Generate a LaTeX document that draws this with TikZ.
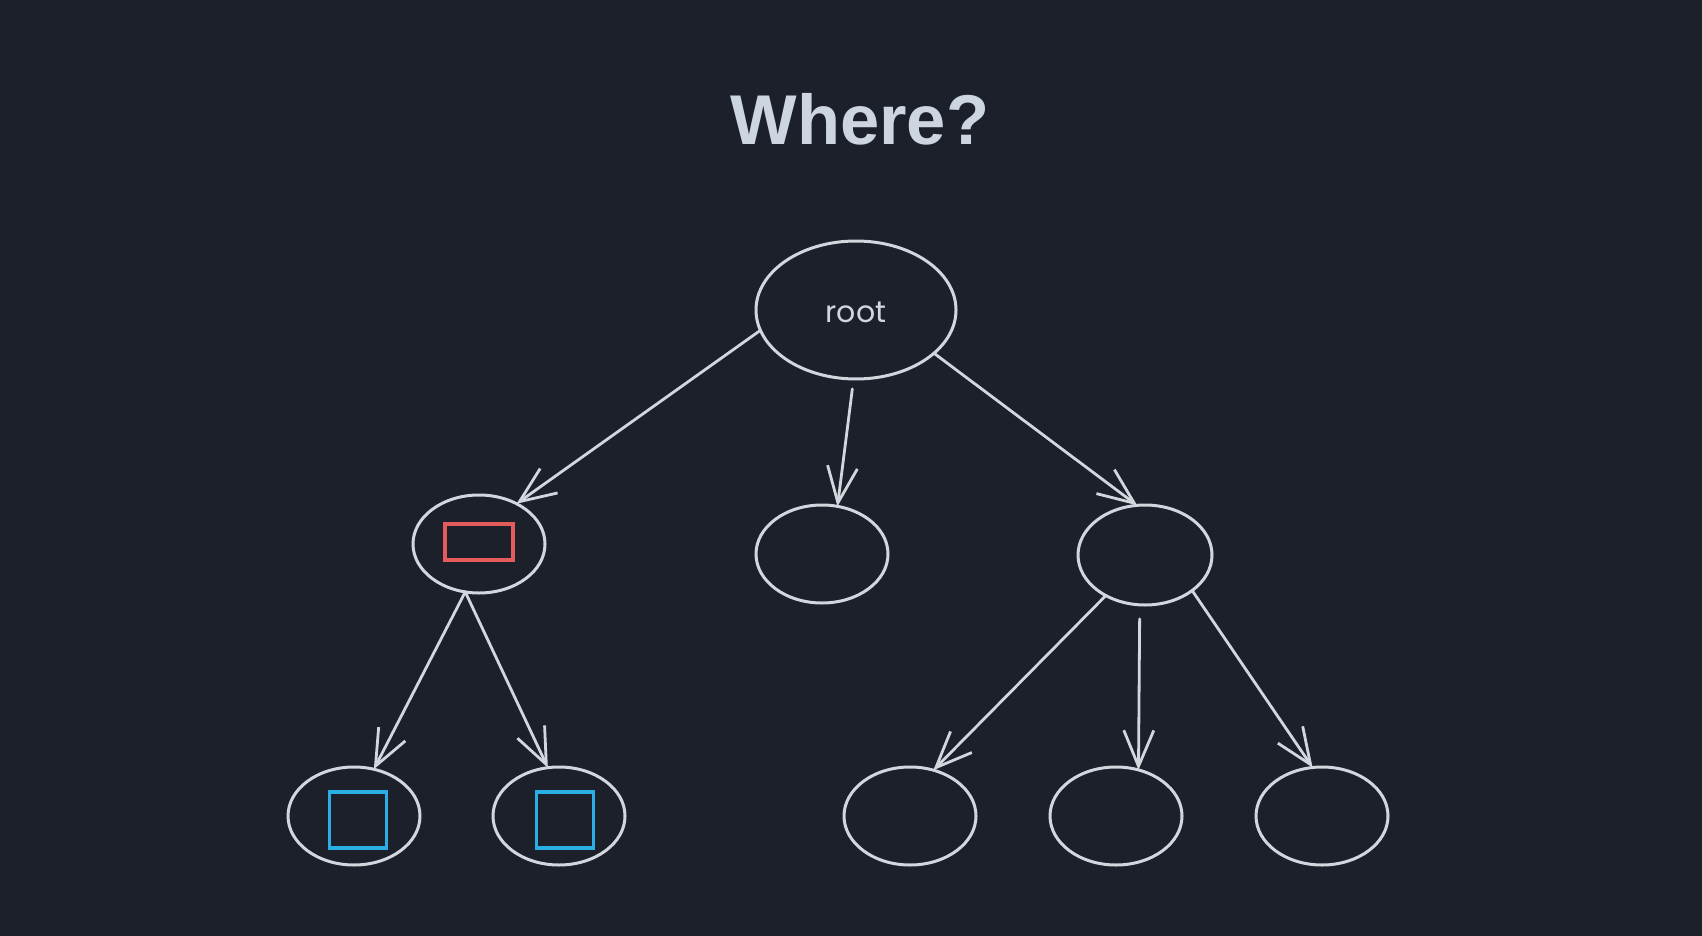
\documentclass[tikz,border=0pt]{standalone}
\usepackage{fontspec}
\setmainfont{Liberation Sans}
\newfontfamily\titlefont{Liberation Sans}
\newfontfamily\handfont{Poppins}
\usetikzlibrary{arrows.meta,shapes.geometric}
\definecolor{bgc}{HTML}{1C202B}
\definecolor{ink}{HTML}{D3D6DC}
\definecolor{titlec}{HTML}{CDD5E0}
\definecolor{redc}{HTML}{E35B5B}
\definecolor{bluec}{HTML}{2BAEE6}
\tikzset{
  tnode/.style={draw=ink, line width=3pt, ellipse, inner sep=0pt, outer sep=0pt,
    minimum width=132pt, minimum height=98pt},
  conn/.style={draw=ink, line width=2.8pt, line cap=round,
    -{Straight Barb[length=36pt,width=30pt,line width=2.8pt]}},
  redbox/.style={draw=redc, line width=3.2pt, rectangle, inner sep=0pt, outer sep=0pt,
    minimum width=68pt, minimum height=36pt},
  bluebox/.style={draw=bluec, line width=3.4pt, rectangle, inner sep=0pt, outer sep=0pt,
    minimum width=57pt, minimum height=56pt},
}
\begin{document}
\begin{tikzpicture}[x=1pt,y=-1pt]
\fill[bgc] (0,0) rectangle (1702,936);
\useasboundingbox (0,0) rectangle (1702,936);
\node[text=titlec, anchor=base, inner sep=0pt] (title) at (860,145)
  {\titlefont\fontsize{70.5pt}{70.5pt}\selectfont\bfseries Where?};
\node[tnode, minimum width=200pt, minimum height=138pt] (root) at (856,310) {};
\node[text=ink, anchor=base, inner sep=0pt] (rootlabel) at (856,322)
  {\handfont\fontsize{30pt}{30pt}\selectfont root};
\node[tnode] (l) at (479,544) {};
\node[tnode] (m) at (822,554) {};
\node[tnode, minimum width=134pt, minimum height=100pt] (r) at (1145,555) {};
\node[tnode] (a) at (354,816) {};
\node[tnode] (b) at (559,816) {};
\node[tnode] (c) at (910,816) {};
\node[tnode] (d) at (1116,816) {};
\node[tnode] (e) at (1322,816) {};
\node[redbox] (rb) at (479,542) {};
\node[bluebox] (ba) at (358,820) {};
\node[bluebox] (bb) at (565,820) {};
\draw[conn] (root.192) -- (l.47);
\draw[conn, shorten <=10pt] (root.268) -- (m.72);
\draw[conn] (root.331) -- (r.99);
\draw[conn] (l.254) -- (a.67);
\draw[conn] (l.254) -- (b.103);
\draw[conn] (r.226) -- (c.63);
\draw[conn, shorten <=14pt] (r.264) -- (d.64);
\draw[conn] (r.323) -- (e.101);
\end{tikzpicture}
\end{document}
